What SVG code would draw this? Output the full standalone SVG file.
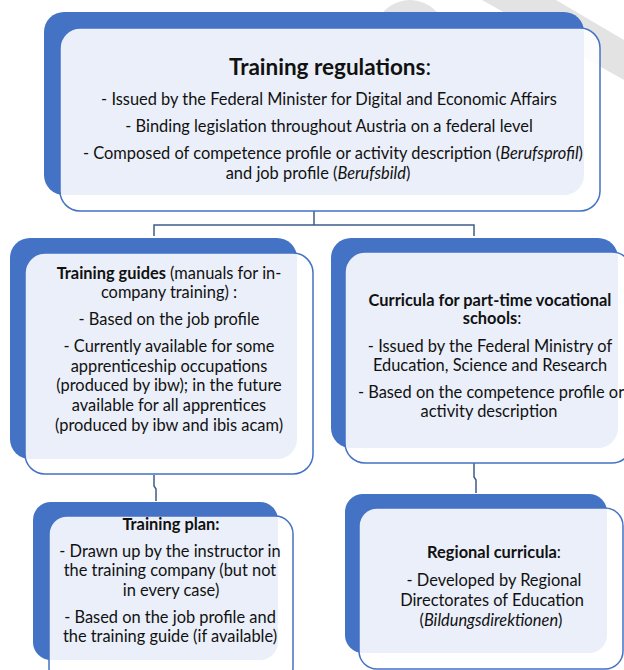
<svg xmlns="http://www.w3.org/2000/svg" width="624" height="670" viewBox="0 0 624 670">
<defs>
<style>
.back{fill:#4472C4;}
.front{fill:#ffffff;fill-opacity:0.89;stroke:#4472C4;stroke-width:1.5;}
.wm{fill:#e3e3e3;}
text{font-family:Lato,"Liberation Sans",sans-serif;font-size:16.4px;fill:#111111;text-anchor:middle;}
.b{font-weight:bold;}
.i{font-style:italic;}
.t{font-size:22.5px;}
.conn{fill:none;stroke:#3E5C8A;stroke-width:1.5;}
</style>
</defs>
<rect width="624" height="670" fill="#ffffff"/>
<g id="watermark">
<circle class="wm" cx="410" cy="36" r="36"/>
<polygon class="wm" points="482,0 556,0 624,40 624,80"/>
</g>
<g id="connectors">
<path class="conn" d="M314,211 V225 M154,225 H474 M154,224.3 V236 M474,224.3 V236"/>
<path class="conn" d="M154,475 V486 L156,489 V501"/>
<path class="conn" d="M474,463 V477 L476,480 V493"/>
</g>
<g id="node-training-regulations">
<rect class="back" x="44" y="12" width="540" height="183" rx="20"/>
<rect class="front" x="60" y="28" width="540" height="183" rx="20"/>
<text x="330" y="75" class="t"><tspan class="b">Training regulations</tspan>:</text>
<text x="329" y="105">- Issued by the Federal Minister for Digital and Economic Affairs</text>
<text x="329" y="132">- Binding legislation throughout Austria on a federal level</text>
<text x="333" y="159">- Composed of competence profile or activity description (<tspan class="i">Berufsprofil</tspan>)</text>
<text x="318" y="179">and job profile (<tspan class="i">Berufsbild</tspan>)</text>
</g>
<g id="node-training-guides">
<rect class="back" x="10" y="238" width="287" height="221" rx="20"/>
<rect class="front" x="25" y="253" width="288" height="221" rx="20"/>
<text x="169" y="279"><tspan class="b">Training guides</tspan> (manuals for in-</text>
<text x="169" y="298">company training) :</text>
<text x="169" y="325">- Based on the job profile</text>
<text x="169" y="352">- Currently available for some</text>
<text x="169" y="372">apprenticeship occupations</text>
<text x="169" y="391">(produced by ibw); in the future</text>
<text x="169" y="411">available for all apprentices</text>
<text x="169" y="431">(produced by ibw and ibis acam)</text>
</g>
<g id="node-curricula">
<rect class="back" x="331" y="238" width="287" height="210" rx="20"/>
<rect class="front" x="345" y="252" width="287" height="211" rx="20"/>
<text x="490" y="306" class="b">Curricula for part-time vocational</text>
<text x="492" y="324"><tspan class="b">schools</tspan>:</text>
<text x="490" y="352">- Issued by the Federal Ministry of</text>
<text x="490" y="371">Education, Science and Research</text>
<text x="491" y="398">- Based on the competence profile or</text>
<text x="489" y="417">activity description</text>
</g>
<g id="node-training-plan">
<rect class="back" x="33" y="502" width="245" height="158" rx="18"/>
<rect class="front" x="49" y="516" width="244" height="170" rx="18"/>
<text x="171" y="530" class="b">Training plan:</text>
<text x="170" y="557">- Drawn up by the instructor in</text>
<text x="170" y="576">the training company (but not</text>
<text x="171" y="596">in every case)</text>
<text x="170" y="623">- Based on the job profile and</text>
<text x="170" y="642">the training guide (if available)</text>
</g>
<g id="node-regional-curricula">
<rect class="back" x="345" y="494" width="262" height="159" rx="18"/>
<rect class="front" x="359" y="508" width="264" height="161" rx="18"/>
<text x="494" y="558"><tspan class="b">Regional curricula</tspan>:</text>
<text x="494" y="586">- Developed by Regional</text>
<text x="492" y="606">Directorates of Education</text>
<text x="491" y="626">(<tspan class="i">Bildungsdirektionen</tspan>)</text>
</g>
</svg>
